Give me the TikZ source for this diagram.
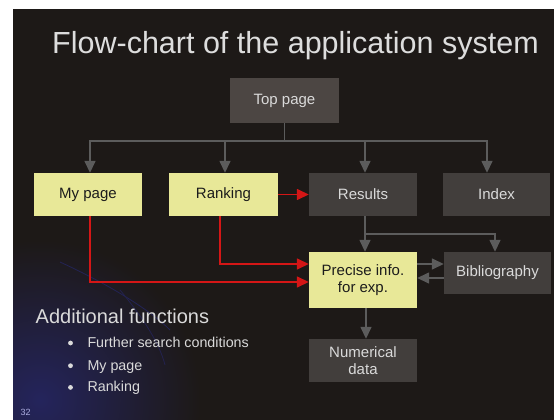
\documentclass[tikz,border=0pt]{standalone}
\usepackage{fontspec}
\setmainfont{Liberation Sans}
\usetikzlibrary{arrows.meta}

\definecolor{slidebg}{RGB}{29,25,23}
\definecolor{glow}{RGB}{36,36,92}
\definecolor{boxgrey}{RGB}{66,62,60}
\definecolor{topgrey}{RGB}{76,70,67}
\definecolor{boxyellow}{RGB}{232,232,152}
\definecolor{linegrey}{RGB}{92,92,92}
\definecolor{linered}{RGB}{212,22,22}
\definecolor{lighttext}{RGB}{218,218,218}
\definecolor{darktext}{RGB}{28,28,28}

\tikzset{
  darkbox/.style={fill=boxgrey, draw=none, text=lighttext, inner sep=0pt,
    align=center, font=\fontsize{15}{17.5}\selectfont},
  yellowbox/.style={fill=boxyellow, draw=none, text=darktext, inner sep=0pt,
    align=center, font=\fontsize{15}{17.5}\selectfont},
  gline/.style={draw=linegrey, line width=1.5pt},
  garrow/.style={gline, -{Triangle[length=12pt,width=11pt]}},
  rarrow/.style={draw=linered, line width=1.5pt, -{Triangle[length=12pt,width=11pt]}},
  plaintext/.style={inner sep=0pt, anchor=base west, text=lighttext},
}

\begin{document}
\begin{tikzpicture}[x=1pt,y=-1pt]
  \useasboundingbox (0,0) rectangle (554,420);
  % page and slide background
  \fill[white] (0,0) rectangle (554,420);
  \fill[slidebg] (13,9) rectangle (554,420);
  \begin{scope}
    \clip (13,9) rectangle (554,420);
    \shade[inner color=glow, outer color=slidebg] (40,400) circle (160);
    \draw[glow!90!slidebg, line width=0.8pt] (60,262) .. controls (110,285) and (150,310) .. (170,330);
    \draw[glow!80!slidebg, line width=0.8pt] (120,290) .. controls (145,320) and (160,345) .. (165,365);
  \end{scope}

  % title
  \node[inner sep=0pt, anchor=base, text=lighttext!92!white,
        font=\fontsize{30.5}{34}\selectfont] (title) at (295.5,53)
        {Flow-chart of the application system};

  % boxes
  \node[darkbox, fill=topgrey, minimum width=109pt, minimum height=45pt] (top) at (284.5,100.5) {Top page};
  \node[yellowbox, minimum width=108pt, minimum height=43pt] (mypage)  at (88,194.5)   {My page};
  \node[yellowbox, minimum width=109pt, minimum height=43pt] (ranking) at (223.5,194.5) {Ranking};
  \node[darkbox, minimum width=108pt, minimum height=43pt] (results) at (363,194.5)   {Results};
  \node[darkbox, minimum width=107pt, minimum height=43pt] (index)   at (496.5,194.5) {Index};
  \node[yellowbox, minimum width=108pt, minimum height=56pt] (precise) at (363,280)   {Precise info.\\for exp.};
  \node[darkbox, minimum width=107pt, minimum height=42pt] (biblio)  at (497.5,273)  {Bibliography};
  \node[darkbox, minimum width=108pt, minimum height=43pt] (numdata) at (363,360.5)  {Numerical\\data};

  % distribution from the top page
  \coordinate (bus) at (284.5,141);
  \draw[gline] (top.south) -- (bus);
  \draw[garrow] (bus) -| ([xshift=2pt]mypage.north);
  \draw[garrow] (bus) -| ([xshift=1.5pt]ranking.north);
  \draw[garrow] (bus) -| ([xshift=2pt]results.north);
  \draw[garrow] (bus) -| ([xshift=-9.5pt]index.north);

  % from the results
  \coordinate (split) at (365,234);
  \draw[garrow] ([xshift=2pt]results.south) -- ([xshift=2pt]precise.north);
  \draw[garrow] (split) -| ([xshift=-2.5pt]biblio.north);

  % precise info and bibliography
  \draw[garrow] (precise.east |- 0,264) -- (biblio.west |- 0,264);
  \draw[garrow] (biblio.west |- 0,278) -- (precise.east |- 0,278);
  \draw[garrow] ([xshift=3pt]precise.south) -- ([xshift=3pt]numdata.north);

  % additional functions
  \draw[rarrow] (ranking.east) -- (results.west);
  \draw[rarrow] ([xshift=-3.5pt]ranking.south) |- (precise.west |- 0,264);
  \draw[rarrow] ([xshift=2pt]mypage.south) |- (precise.west |- 0,282);

  % notes
  \node[plaintext, font=\fontsize{20}{24}\selectfont] (addfun) at (35.5,323.3) {Additional functions};
  \node[plaintext, font=\fontsize{14.3}{17}\selectfont] (b1) at (87.3,347.3) {Further search conditions};
  \node[plaintext, font=\fontsize{14.3}{17}\selectfont] (b2) at (87.3,370) {My page};
  \node[plaintext, font=\fontsize{14.3}{17}\selectfont] (b3) at (87.3,391.7) {Ranking};
  \foreach \yy in {343, 365.7, 387.4}
    \fill[lighttext] (70.5,\yy) circle (2.4);

  \node[plaintext, text=lighttext!80!blue, font=\fontsize{9}{10}\selectfont] (pagenum) at (20.5,415) {32};
\end{tikzpicture}
\end{document}
